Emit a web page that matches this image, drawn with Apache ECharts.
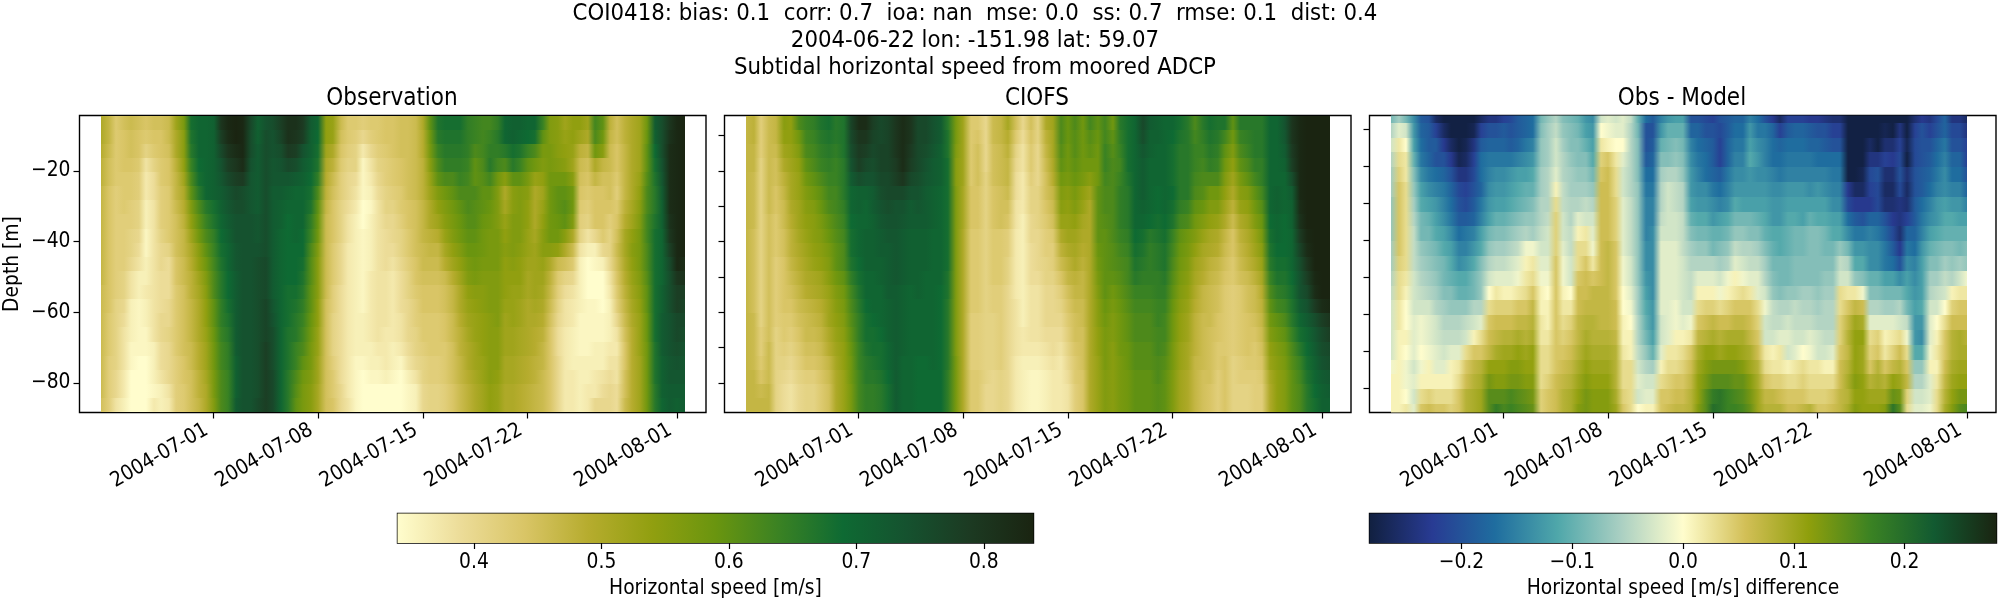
<!DOCTYPE html>
<html lang="en">
<head>
<meta charset="UTF-8">
<title>COI0418</title>
<script src="https://cdn.jsdelivr.net/npm/echarts@6/dist/echarts.min.js"></script>
<style>
html,body{margin:0;padding:0;background:#fff;}
#main{width:2000px;height:600px;}
</style>
</head>
<body>
<div id="main"></div>
<script>
// depth of each row [m], top to bottom
var obsDepths = [-6.3,-10.3,-14.3,-18.3,-22.3,-26.3,-30.3,-34.3,-38.3,-42.3,-46.3,-50.3,-54.3,-58.3,-62.3,-66.3,-70.3,-74.3,-78.3,-82.3,-86.3];
var diffDepths = [-6.2,-10.2,-14.2,-18.2,-22.2,-26.2,-30.2,-34.2,-38.2,-42.2,-46.2,-50.2,-54.2,-58.2,-62.2,-66.2,-70.2,-74.2,-78.2,-82.2,-86.2];

// one line per half day from 06-23 12:00, speed in cm/s, top to bottom
var obsColumns = [
[50,50,49,48,48,47,47,47,47,47,47,47,46,46,46,46,46,46,46,46,45],
[47,47,46,45,45,44,44,44,44,44,44,44,44,44,43,43,43,42,42,42,42],
[43,43,43,43,43,42,42,42,42,42,42,42,42,41,41,41,41,41,40,40,38],
[45,44,44,44,43,43,43,42,42,42,42,41,41,40,39,38,38,38,37,37,36],
[46,45,45,44,43,43,42,42,41,41,40,38,38,36,36,36,35,35,34,34,34],
[45,44,44,43,42,42,41,41,40,39,38,36,36,35,35,35,35,34,34,34,34],
[44,43,41,38,37,37,36,36,35,35,36,36,37,36,36,35,35,34,34,34,34],
[45,44,43,41,39,39,38,38,38,38,38,38,38,38,38,38,36,36,36,35,37],
[45,44,44,43,43,42,42,42,41,40,40,39,39,39,40,40,39,39,38,36,36],
[46,46,45,44,44,43,43,43,43,41,39,39,39,40,40,41,40,40,40,38,37],
[52,50,50,48,47,47,46,45,45,45,44,44,43,43,43,43,43,42,42,42,42],
[57,55,55,54,52,50,49,48,47,47,46,46,45,45,45,45,45,44,44,43,43],
[68,67,66,64,62,60,56,54,52,50,49,48,48,47,47,47,46,46,45,45,45],
[70,70,70,69,68,66,62,60,58,55,54,52,51,50,50,50,49,49,48,48,47],
[70,70,70,70,70,70,66,64,62,60,58,56,55,54,54,53,52,52,51,50,50],
[71,71,71,71,71,71,68,67,65,64,63,62,62,60,60,59,58,58,57,57,56],
[80,78,76,74,73,72,71,70,69,68,67,66,66,65,65,64,63,63,62,62,62],
[83,82,80,78,76,74,73,72,71,70,70,69,69,68,67,66,65,65,64,64,64],
[84,84,82,80,78,76,75,74,74,73,73,72,72,72,72,72,72,71,71,71,72],
[83,83,83,82,79,75,75,74,74,74,74,74,74,74,74,74,74,74,74,74,74],
[76,75,75,74,73,73,73,74,74,74,74,74,74,74,74,74,74,74,74,74,74],
[71,71,72,72,72,72,72,73,73,74,75,75,75,75,75,75,75,75,75,75,76],
[74,75,75,75,75,75,75,75,75,75,76,76,76,77,77,77,78,78,78,78,78],
[75,74,74,73,73,72,72,72,72,72,72,72,72,73,74,75,75,75,76,76,76],
[78,77,75,74,73,72,71,71,70,70,70,70,70,70,70,70,70,70,70,70,70],
[81,81,79,76,73,71,70,69,69,69,69,69,68,68,68,67,67,67,66,66,66],
[81,80,78,75,72,70,70,70,70,69,69,69,68,67,66,66,64,64,62,61,60],
[79,78,74,72,71,70,70,70,69,69,68,67,66,65,64,63,62,60,58,57,57],
[72,71,71,70,69,68,67,65,64,62,61,61,60,60,59,58,57,57,56,55,55],
[70,69,68,67,65,62,60,59,58,56,55,55,55,54,54,53,53,52,52,51,51],
[54,54,52,50,49,48,47,46,46,46,46,46,46,45,45,45,45,45,45,45,45],
[53,53,50,48,46,45,44,44,44,43,43,43,42,42,41,41,41,42,43,43,44],
[46,45,44,43,42,42,41,41,41,40,40,40,39,39,39,39,39,39,39,40,40],
[43,43,42,41,40,40,39,38,38,37,37,37,37,37,37,37,37,37,37,37,38],
[43,42,41,41,39,38,37,36,36,36,36,36,36,36,36,36,36,35,35,35,35],
[42,40,37,35,35,35,34,34,35,35,35,35,35,35,36,36,36,35,34,34,34],
[43,42,40,38,37,36,35,36,36,36,36,37,37,37,37,37,36,36,35,34,34],
[43,43,42,41,40,39,38,38,38,38,38,38,38,38,38,38,37,36,35,34,34],
[44,44,43,42,42,41,41,40,39,39,39,38,38,38,38,37,37,37,36,34,34],
[44,44,44,43,43,42,41,40,40,39,38,37,37,37,37,37,36,36,35,34,34],
[45,45,45,44,44,43,43,42,41,41,40,39,39,39,38,38,37,35,34,34,34],
[45,45,45,45,45,45,44,44,43,43,42,41,41,40,40,40,39,38,36,35,35],
[46,46,46,46,46,46,45,45,45,45,44,44,43,42,42,41,41,40,38,36,36],
[50,49,49,48,48,48,47,47,47,46,46,45,44,44,43,43,42,41,41,40,40],
[60,58,57,55,53,52,50,50,48,47,46,45,44,44,43,43,43,42,42,41,41],
[67,66,64,62,60,56,54,52,49,47,46,45,44,44,43,43,43,42,42,41,41],
[68,67,66,65,62,58,56,55,53,51,49,46,45,45,44,44,43,43,43,42,42],
[68,67,66,65,62,60,58,57,56,54,52,49,47,47,46,46,45,45,45,44,44],
[68,67,66,65,64,62,60,59,58,56,54,52,50,50,49,48,48,47,47,46,46],
[65,65,65,64,63,62,62,61,60,59,57,56,54,53,52,51,50,50,49,48,48],
[64,64,62,60,60,62,61,61,60,59,58,57,55,54,53,53,52,52,51,50,50],
[63,63,63,62,61,60,60,59,58,58,57,56,55,55,54,54,54,53,53,52,52],
[63,64,65,66,63,60,59,58,57,57,57,56,56,56,55,55,55,55,55,54,54],
[65,66,65,63,58,56,56,56,57,57,57,56,56,56,56,55,55,55,54,53,53],
[70,70,66,62,55,50,51,53,54,55,54,54,54,53,52,52,52,51,51,50,50],
[71,71,68,66,60,55,55,56,56,56,55,54,53,53,53,52,52,51,51,50,50],
[71,70,67,64,60,56,56,56,56,55,54,54,53,52,52,51,51,50,50,49,49],
[70,69,64,60,57,55,54,54,53,53,52,51,51,50,50,50,50,49,49,48,48],
[70,68,62,58,53,50,50,50,51,52,52,52,52,51,50,49,49,48,48,47,47],
[64,60,57,56,54,52,53,54,55,55,53,52,51,50,49,48,47,47,46,46,46],
[56,56,57,57,58,58,58,58,58,55,50,48,47,46,45,44,44,44,44,44,44],
[55,55,55,56,58,60,60,59,58,54,46,43,42,41,40,39,39,40,40,40,40],
[52,53,54,55,58,60,61,60,55,50,45,41,39,38,38,37,37,37,37,37,37],
[54,54,53,52,55,58,58,56,50,46,43,40,38,37,37,36,36,36,37,37,37],
[54,52,48,46,45,44,43,42,41,38,36,36,36,36,35,35,35,36,36,36,36],
[52,50,47,45,44,43,42,41,38,36,34,34,34,35,35,35,35,36,36,37,37],
[63,62,58,50,47,44,44,44,40,36,35,34,34,35,35,35,36,36,37,37,40],
[60,58,55,47,45,44,44,44,43,40,36,34,34,34,35,35,36,36,38,39,40],
[48,47,46,46,45,45,44,42,41,41,40,38,37,36,36,36,37,38,39,40,40],
[45,45,44,44,43,42,43,44,45,46,45,44,43,42,40,38,37,38,38,39,39],
[48,48,47,47,47,47,48,49,51,51,50,49,48,47,46,45,44,44,45,45,46],
[50,50,50,50,50,50,51,52,54,55,54,53,52,51,50,49,49,49,49,49,49],
[52,52,52,52,53,54,55,56,57,57,57,56,55,54,53,53,53,52,52,52,52],
[58,59,60,60,61,62,62,63,63,62,62,61,60,60,59,59,58,58,58,58,58],
[72,71,69,68,67,66,66,67,68,68,68,68,68,68,68,68,67,67,67,66,66],
[75,75,75,74,73,72,71,71,70,70,70,70,71,71,72,72,72,71,71,71,70],
[80,81,82,82,82,82,82,81,80,78,76,75,75,75,74,74,74,73,73,72,72],
[83,83,83,83,83,83,83,83,83,83,83,80,78,78,76,76,75,74,73,72,71],
[84,84,84,84,84,84,84,84,84,84,82,81,78,77,76,75,74,73,73,72,72]
];

var modelColumns = [
[47,47,47,47,47,47,47,47,47,47,47,47,47,47,47,47,47,47,47,47,47],
[48,48,47,47,46,46,46,46,45,45,45,45,45,45,46,46,46,46,47,47,47],
[42,42,42,41,41,41,41,41,41,41,41,41,41,41,41,42,42,43,44,46,47],
[46,46,46,46,46,46,46,45,45,45,45,45,45,45,45,45,46,46,46,47,47],
[47,47,46,45,45,44,44,43,43,43,42,42,42,42,42,41,41,41,41,41,41],
[55,54,52,50,48,47,46,46,45,45,44,44,44,44,43,43,42,41,40,39,39],
[54,54,53,52,51,51,50,49,48,48,47,46,45,44,43,42,41,40,39,38,38],
[62,58,56,54,53,53,52,52,51,50,49,48,47,46,45,44,43,42,41,40,40],
[64,63,62,60,58,56,55,54,53,52,51,50,49,47,46,46,45,44,42,41,41],
[65,64,63,62,60,58,56,55,55,54,53,51,50,48,47,46,45,44,42,41,41],
[67,66,65,64,62,60,59,57,56,55,54,52,51,49,48,47,46,45,44,43,43],
[68,67,66,65,64,63,62,60,59,57,56,55,53,52,52,50,49,47,46,45,45],
[66,66,65,64,64,63,63,62,61,60,60,58,56,55,54,53,52,51,50,50,50],
[67,67,67,66,66,66,65,64,63,62,62,60,58,57,56,55,54,54,53,53,53],
[77,76,75,74,72,70,70,69,68,68,67,65,63,62,61,60,59,58,58,57,57],
[82,80,79,78,75,71,71,70,70,70,69,68,67,66,65,65,64,64,63,63,63],
[82,80,78,76,74,71,70,70,71,71,71,70,70,69,68,68,67,66,66,65,65],
[78,77,76,75,74,72,72,71,71,71,71,70,70,70,69,68,68,67,66,65,65],
[76,76,77,77,76,75,74,73,72,72,71,71,70,70,70,69,68,68,67,66,66],
[77,77,77,77,76,76,75,74,73,72,72,72,72,71,71,71,70,70,69,68,68],
[80,80,80,79,78,76,74,74,73,73,73,73,72,72,72,72,72,72,72,72,72],
[82,82,82,82,80,76,74,73,72,72,72,72,71,71,71,71,71,70,70,70,70],
[80,80,79,78,76,74,72,72,71,71,71,71,70,70,70,70,70,70,70,70,70],
[76,76,76,76,75,74,73,72,71,71,71,71,71,70,70,70,70,69,69,69,69],
[76,76,75,74,73,72,72,72,71,71,71,70,70,70,70,70,70,69,69,69,69],
[74,74,73,72,72,71,71,71,70,70,70,70,70,70,70,70,70,70,69,69,69],
[72,72,71,71,71,70,70,70,70,70,70,70,69,69,69,69,69,69,69,69,69],
[66,67,67,68,68,68,68,68,68,68,68,67,67,66,66,66,66,66,65,65,65],
[57,57,56,55,55,56,56,56,56,56,56,56,56,56,56,56,56,57,57,57,57],
[52,52,52,52,52,51,51,51,50,50,50,50,50,50,50,50,50,50,50,50,50],
[43,43,43,43,43,44,44,44,43,43,43,43,43,43,42,42,42,42,43,43,43],
[43,44,45,45,45,44,44,44,43,43,43,43,43,43,42,42,42,42,43,43,43],
[40,40,40,40,41,41,41,41,41,41,41,41,41,41,41,41,41,41,41,40,40],
[46,46,45,45,45,44,44,44,43,43,43,43,42,42,41,41,41,41,40,40,40],
[47,47,46,46,46,45,45,45,43,43,43,43,42,42,42,42,42,42,41,41,41],
[51,49,48,47,47,46,45,44,42,42,41,41,40,40,40,40,40,40,40,40,40],
[45,43,41,40,39,39,38,38,37,37,37,37,37,38,38,38,38,37,37,37,37],
[40,39,38,38,37,37,37,36,36,36,36,36,36,36,36,37,37,36,36,36,36],
[45,44,43,43,42,41,41,40,40,39,39,39,38,38,38,38,37,36,35,35,35],
[41,41,40,40,40,41,41,41,40,40,40,39,38,38,38,38,37,36,35,35,35],
[50,48,47,46,45,45,44,43,42,42,41,41,40,40,40,39,38,37,36,36,36],
[52,51,51,50,49,47,46,45,43,42,42,41,40,40,40,39,39,38,37,37,37],
[62,62,61,60,58,56,55,53,50,48,46,44,42,41,40,39,38,37,37,37,37],
[59,59,58,58,57,55,54,53,52,50,48,47,45,44,43,42,41,40,39,38,38],
[62,61,61,60,59,57,56,54,52,51,50,48,47,46,45,45,44,43,43,42,42],
[58,58,58,58,57,54,53,51,50,49,48,47,47,46,46,45,45,45,44,44,44],
[63,61,60,58,55,52,50,50,50,50,50,50,50,50,50,50,50,50,50,50,50],
[60,59,58,58,58,60,60,60,60,59,58,57,56,55,55,54,54,53,53,53,53],
[63,63,64,64,63,62,62,61,60,60,60,60,60,59,58,57,57,57,56,56,56],
[58,60,61,62,62,62,62,62,62,61,61,60,58,57,56,56,55,55,55,55,55],
[66,65,64,63,64,65,65,65,64,63,62,61,60,59,58,58,58,57,57,57,57],
[68,68,68,68,67,66,66,66,65,64,63,63,62,61,60,60,59,59,58,58,58],
[70,70,70,70,70,70,70,70,69,68,67,66,64,63,62,62,61,61,60,60,60],
[76,75,73,72,72,72,71,70,68,67,66,65,64,63,62,62,61,61,60,60,60],
[72,71,71,70,70,70,70,69,66,65,65,65,64,63,62,62,61,61,60,60,60],
[71,71,70,70,70,69,69,68,67,66,66,65,65,64,64,63,63,62,62,61,61],
[70,70,70,70,70,70,70,69,68,67,67,66,65,64,63,63,62,61,60,60,60],
[70,69,68,68,68,69,68,67,64,63,62,61,60,59,58,58,57,57,56,56,56],
[68,67,66,66,66,66,65,63,60,59,58,57,56,55,54,54,53,53,52,52,52],
[66,66,66,66,66,66,64,62,58,57,56,55,54,53,52,52,51,51,50,50,50],
[62,63,64,64,63,62,60,58,56,54,52,51,50,49,48,48,48,47,47,47,47],
[66,65,64,63,62,61,59,56,53,51,50,49,47,47,46,46,46,46,45,45,45],
[68,67,66,65,62,58,56,54,51,50,48,47,46,46,46,45,45,45,45,44,44],
[67,66,65,64,62,58,56,53,50,49,47,46,45,45,44,44,43,43,42,42,42],
[67,63,60,58,56,54,52,50,47,46,45,44,43,43,43,43,43,44,44,44,44],
[60,58,56,54,52,50,48,46,44,44,43,43,42,42,42,42,42,41,41,41,41],
[66,64,62,60,57,55,53,50,48,47,46,45,43,43,43,43,43,42,42,41,41],
[66,65,64,62,60,56,54,52,50,49,48,46,45,45,44,44,44,43,42,41,41],
[66,66,66,65,63,60,58,56,53,52,50,48,46,46,45,44,43,43,42,42,42],
[66,66,66,65,65,63,61,59,57,55,53,51,49,48,47,46,45,44,43,42,42],
[70,70,70,70,70,70,70,69,68,67,66,64,62,60,58,56,54,53,51,50,50],
[70,70,70,70,70,71,71,70,70,69,68,67,65,63,60,58,56,55,54,54,54],
[74,73,72,71,70,70,70,69,69,69,68,67,66,64,62,60,58,57,56,56,56],
[80,80,79,78,75,72,71,71,70,70,70,69,68,67,66,64,62,61,60,60,60],
[83,83,83,83,83,83,82,81,79,77,75,74,74,72,70,68,66,64,63,62,62],
[84,84,84,84,84,84,84,84,83,82,80,78,76,74,72,70,69,68,67,66,66],
[84,84,84,84,84,84,84,84,84,84,84,83,82,79,75,73,72,71,70,69,68],
[84,84,84,84,84,84,84,84,84,84,84,84,84,82,78,76,75,74,72,71,71],
[84,84,84,84,84,84,84,84,84,84,84,84,84,83,80,78,76,75,73,72,71]
];

// difference in cm/s, one line per half day
var diffColumns = [
[-9,-5,-3,-5,-6,-6,-7,-7,-7,-6,-6,-5,-4,-3,-3,-3,-3,-1,1,1,1],
[-6,-2,2,3,4,5,5,5,5,5,4,3,3,2,2,1,1,1,1,1,1],
[-9,-3,0,2,2,3,3,3,3,3,3,2,1,0,0,1,0,-1,-1,0,2],
[-14,-13,-12,-10,-8,-7,-6,-5,-4,-4,-4,-3,-3,-3,-2,-2,-2,-3,-2,-3,-2],
[-19,-18,-17,-16,-14,-12,-11,-9,-9,-7,-6,-5,-4,-3,-1,-1,0,-1,1,3,5],
[-20,-19,-19,-18,-16,-14,-12,-10,-9,-8,-7,-6,-5,-3,-2,-2,-1,1,1,4,6],
[-26,-22,-19,-20,-17,-15,-13,-12,-11,-9,-8,-7,-6,-5,-3,-3,-2,-2,1,3,5],
[-28,-26,-23,-20,-18,-16,-15,-14,-12,-11,-9,-9,-8,-6,-5,-4,-3,-2,1,3,5],
[-28,-28,-26,-23,-20,-18,-17,-16,-14,-12,-11,-10,-8,-7,-5,-4,-2,1,1,3,4],
[-28,-28,-28,-27,-24,-21,-20,-19,-17,-15,-14,-11,-10,-7,-5,-4,-2,2,3,5,5],
[-28,-28,-27,-26,-24,-22,-21,-19,-16,-15,-13,-11,-10,-7,-4,-3,3,5,6,8,8],
[-28,-27,-24,-22,-21,-20,-19,-18,-15,-13,-11,-9,-9,-5,-3,1,5,7,8,9,9],
[-26,-22,-19,-17,-17,-18,-16,-15,-12,-11,-8,-7,-7,-5,-2,3,5,8,9,10,10],
[-24,-20,-18,-16,-15,-14,-13,-12,-9,-7,-5,-3,0,3,5,6,7,11,13,15,15],
[-24,-20,-18,-16,-14,-13,-12,-10,-8,-6,-4,-2,2,4,6,7,9,11,12,15,18],
[-22,-19,-18,-16,-14,-13,-12,-10,-8,-6,-4,-2,1,4,6,8,10,11,12,15,16],
[-21,-20,-19,-16,-13,-12,-11,-9,-7,-5,-3,-2,1,4,6,8,10,12,13,16,17],
[-19,-19,-18,-15,-12,-11,-10,-8,-6,-4,-2,-1,2,5,7,9,11,12,13,15,16],
[-18,-18,-16,-14,-12,-10,-9,-7,-5,-1,1,2,3,5,7,8,10,11,12,14,15],
[-17,-17,-15,-13,-11,-10,-8,-7,-6,-1,2,3,5,7,8,9,11,11,12,13,14],
[-9,-8,-7,-7,-6,-6,-5,-5,-4,-3,-2,-1,1,1,2,2,3,3,3,4,4],
[-7,-6,-6,-6,-5,-5,-5,-4,-3,-3,-2,-1,0,1,1,2,3,3,4,5,5],
[-5,-4,-3,-3,-2,1,3,4,4,4,5,5,5,5,5,5,5,5,6,6,6],
[-8,-7,-6,-5,-5,-4,-4,-3,-3,-2,-1,-1,1,2,3,4,5,6,7,8,8],
[-9,-8,-8,-7,-6,-6,-5,-5,-4,-4,-3,-3,0,2,4,5,6,7,8,9,9],
[-10,-9,-8,-8,-7,-6,-5,-2,1,3,3,5,6,6,7,7,8,9,10,11,12],
[-13,-12,-10,-8,-7,-6,-4,-3,2,3,5,6,6,7,8,9,10,11,12,13,13],
[-14,-13,-12,-11,-9,-7,-5,-3,-2,-1,2,5,7,7,8,8,9,10,11,12,12],
[-3,0,2,4,5,6,6,6,6,6,6,6,7,7,7,8,9,10,11,12,12],
[-2,-1,1,5,6,6,6,6,6,7,7,7,7,7,7,8,9,10,11,12,12],
[-3,-2,0,2,3,3,4,4,4,5,5,5,5,6,6,7,8,8,8,9,10],
[-2,-2,0,-2,-3,-3,-2,-2,-2,-2,-1,-1,0,0,1,1,2,3,3,4,5],
[-4,-5,-5,-5,-5,-5,-4,-4,-4,-4,-3,-3,-2,-1,0,1,1,3,3,3,3],
[-10,-9,-8,-8,-8,-7,-7,-7,-7,-7,-7,-7,-6,-6,-5,-5,-4,-3,-2,-3,0],
[-17,-20,-20,-19,-17,-16,-15,-15,-15,-14,-14,-13,-12,-11,-10,-9,-7,-5,-3,-2,1],
[-19,-20,-19,-18,-17,-16,-15,-15,-14,-14,-14,-14,-14,-13,-13,-12,-10,-6,-3,-2,1],
[-15,-13,-10,-8,-6,-5,-5,-4,-3,-2,-2,-2,-2,-2,-3,-3,-2,1,3,5,5],
[-13,-10,-9,-8,-5,-3,-3,-3,-3,-2,-2,-2,-2,-2,-2,-2,2,3,4,5,6],
[-12,-10,-8,-7,-5,-4,-4,-3,-3,-2,-2,-2,-2,-1,-1,1,2,3,5,6,7],
[-12,-10,-9,-8,-7,-5,-5,-4,-4,-4,-3,-3,-3,-3,-2,1,3,4,5,6,7],
[-20,-18,-15,-14,-13,-13,-12,-10,-8,-6,-5,-4,-4,-3,-1,2,5,6,7,8,8],
[-20,-18,-17,-16,-15,-14,-13,-11,-9,-7,-5,-2,1,3,5,7,9,10,11,11,12],
[-21,-20,-18,-17,-17,-14,-13,-11,-9,-7,-5,-2,1,4,6,8,11,12,13,15,15],
[-22,-20,-19,-19,-18,-16,-14,-13,-10,-9,-5,-2,1,4,7,9,11,13,15,18,20],
[-20,-21,-22,-22,-19,-17,-15,-12,-10,-8,-6,-3,-1,3,6,8,10,13,15,19,19],
[-19,-19,-18,-18,-16,-15,-14,-11,-9,-7,-5,-1,1,4,6,9,11,13,15,17,17],
[-18,-17,-16,-15,-14,-13,-11,-9,-7,-4,-2,1,2,5,7,9,11,13,14,16,17],
[-18,-17,-16,-15,-14,-13,-12,-9,-7,-5,-3,-1,3,5,7,9,10,12,14,15,16],
[-15,-13,-12,-11,-13,-13,-12,-9,-8,-5,-4,-2,2,5,6,7,9,10,12,13,14],
[-17,-16,-14,-13,-14,-13,-12,-10,-8,-6,-4,-2,-2,3,4,5,6,8,9,10,10],
[-20,-16,-15,-15,-14,-13,-12,-11,-10,-8,-6,-5,-3,-1,-3,-3,2,3,5,7,8],
[-23,-18,-17,-17,-15,-14,-13,-13,-11,-10,-9,-8,-7,-4,-4,-3,1,2,4,7,8],
[-26,-22,-18,-17,-16,-14,-13,-13,-11,-11,-9,-9,-8,-5,-4,-2,2,2,4,6,8],
[-22,-19,-17,-16,-15,-13,-12,-11,-10,-10,-9,-9,-7,-5,-3,-2,-3,1,3,5,6],
[-22,-18,-17,-16,-15,-13,-12,-11,-9,-9,-8,-8,-7,-4,-4,-3,-2,2,3,5,6],
[-22,-18,-17,-16,-15,-13,-12,-12,-9,-9,-8,-8,-6,-5,-4,-3,0,3,4,5,7],
[-23,-19,-18,-16,-15,-14,-12,-10,-8,-8,-8,-8,-6,-5,-4,-2,-1,2,3,4,8],
[-23,-20,-18,-17,-15,-13,-12,-11,-8,-8,-8,-8,-7,-6,-5,-3,-3,2,3,4,5],
[-24,-20,-19,-17,-15,-14,-12,-11,-9,-9,-8,-7,-6,-5,-5,-4,-3,1,3,4,5],
[-25,-22,-20,-17,-16,-15,-14,-12,-11,-9,-8,-7,-6,-5,-5,-4,-2,1,3,5,6],
[-25,-22,-20,-17,-16,-15,-14,-12,-11,-7,-4,-3,3,3,4,4,5,6,6,7,7],
[-28,-28,-28,-28,-28,-23,-21,-17,-14,-9,-5,-3,2,5,7,8,7,8,9,8,9],
[-28,-28,-28,-28,-28,-26,-23,-19,-16,-13,-11,-7,2,7,10,11,11,11,12,11,12],
[-28,-28,-28,-28,-27,-26,-23,-20,-16,-13,-11,-8,-1,6,9,11,10,10,11,11,11],
[-28,-28,-26,-24,-21,-22,-23,-18,-15,-14,-14,-10,-8,-5,-2,3,4,5,8,10,11],
[-28,-28,-28,-24,-20,-21,-21,-18,-16,-14,-14,-10,-8,-5,-2,4,5,8,9,10,11],
[-28,-27,-25,-22,-25,-26,-25,-20,-18,-16,-16,-12,-9,-6,-2,1,2,5,8,10,12],
[-28,-28,-25,-23,-25,-26,-25,-23,-21,-19,-17,-12,-9,-6,-2,2,4,7,11,14,19],
[-28,-24,-22,-21,-20,-21,-24,-24,-25,-23,-20,-14,-9,-5,-3,3,6,8,10,13,15],
[-28,-28,-27,-28,-25,-26,-25,-22,-18,-16,-14,-12,-11,-9,-4,-1,3,5,7,4,3],
[-25,-22,-21,-21,-20,-20,-19,-19,-18,-17,-15,-14,-13,-12,-13,-13,-11,-7,-5,-3,-2],
[-23,-20,-20,-20,-19,-19,-17,-16,-15,-13,-12,-12,-12,-11,-13,-14,-11,-7,-5,-3,-2],
[-24,-22,-20,-19,-18,-17,-15,-14,-12,-10,-8,-6,-5,-3,-2,-2,-1,1,-2,-2,-1],
[-21,-20,-18,-17,-16,-15,-13,-13,-11,-9,-8,-6,-4,-3,0,1,2,1,2,3,3],
[-18,-18,-16,-15,-14,-14,-12,-11,-10,-8,-6,-4,-3,0,3,5,5,6,7,8,9],
[-24,-21,-20,-18,-17,-15,-13,-11,-10,-8,-7,-5,1,4,6,8,8,9,10,11,12],
[-24,-21,-20,-18,-17,-15,-13,-12,-10,-9,-6,-3,2,5,6,9,9,10,11,13,15],
[-26,-24,-22,-22,-20,-18,-15,-12,-10,-8,-7,-1,2,5,6,8,9,10,11,13,16]
];

// axis ticks
var dateTicks = [Date.UTC(2004,6,1),Date.UTC(2004,6,8),Date.UTC(2004,6,15),Date.UTC(2004,6,22),Date.UTC(2004,7,1)];
var labelDepthTicks = [-20,-40,-60,-80];
var minorDepthTicks = [-10,-20,-30,-40,-50,-60,-70,-80];
var speedTicks = [0.4,0.5,0.6,0.7,0.8];
var diffTicks = [-0.2,-0.1,0,0.1,0.2];

// colormaps, evenly spaced stops
var speedColors = ['#fffdcd','#ecdc98','#d9c566','#b6ac2e','#919f10','#6a950f','#3a8223','#0e6a33','#15522f','#1c3a22','#1a2411'];
var diffColors = ['#112040','#283b93','#1f6d9f','#4fa7aa','#a9cfc2','#fffdcd','#d2bf56','#8f9f0c','#3a8223','#125a31','#1a2411'];
var speedRange = [0.34,0.839];
var diffRange = [-0.283,0.283];

var firstTime = Date.UTC(2004,5,23,12);
var halfDay = 12*3600*1000;
var timeMin = Date.UTC(2004,5,22,1);
var timeMax = Date.UTC(2004,7,2,22);

var FONT = '"DejaVu Sans Condensed","DejaVu Sans"';
var TICK_SIZE = 20.8;
var chart = echarts.init(document.getElementById('main'));

function colorOf(v, range, colors) {
    var t = (v-range[0])/(range[1]-range[0]);
    return echarts.color.lerp(Math.max(0,Math.min(1,t)), colors);
}

// cells run from one half-day column to the next, depth rows stay flat
function cellData(columns, depths) {
    var out = [];
    for (var i=0;i<columns.length-1;i++) {
        for (var k=0;k<depths.length;k++) {
            out.push([firstTime+i*halfDay, firstTime+(i+1)*halfDay, depths[k]+2, depths[k]-2, columns[i][k]/100, columns[i+1][k]/100]);
        }
    }
    return out;
}

function cellSeries(gridIndex, columns, depths, range, colors) {
    return {
        type:'custom', xAxisIndex:gridIndex, yAxisIndex:gridIndex, clip:true, silent:true,
        animation:false, progressive:0, data:cellData(columns,depths),
        encode:{x:[0,1],y:[2,3]},
        renderItem:function(params,api){
            var a = api.coord([api.value(0),api.value(2)]);
            var b = api.coord([api.value(1),api.value(3)]);
            // whole pixels so neighbouring cells leave no seam
            var x0 = Math.round(a[0]), x1 = Math.round(b[0]), y0 = Math.round(a[1]), y1 = Math.round(b[1]);
            return {
                type:'rect',
                shape:{x:x0,y:y0,width:x1-x0,height:y1-y0},
                style:{fill:new echarts.graphic.LinearGradient(0,0,1,0,[
                    {offset:0,color:colorOf(api.value(4),range,colors)},
                    {offset:1,color:colorOf(api.value(5),range,colors)}
                ])}
            };
        }
    };
}

function barSeries(gridIndex, range, colors) {
    var stops = colors.map(function(c,i){return {offset:i/(colors.length-1),color:c};});
    return {
        type:'custom', xAxisIndex:gridIndex, yAxisIndex:gridIndex, silent:true, animation:false,
        data:[[range[0],range[1]]], encode:{x:[0,1]},
        renderItem:function(params,api){
            var a = api.coord([api.value(0),1]);
            var b = api.coord([api.value(1),0]);
            return {type:'rect',shape:{x:a[0],y:a[1],width:b[0]-a[0],height:b[1]-a[1]},
                style:{fill:new echarts.graphic.LinearGradient(0,0,1,0,stops)}};
        }
    };
}

function minusSign(v){return String(v).replace('-','\u2212');}

function panelGrid(left){
    return {left:left,top:115.5,width:626.5,height:297,show:true,borderColor:'#000',borderWidth:1.4,backgroundColor:'#fff'};
}
function timeAxis(i){
    return {type:'value',gridIndex:i,min:timeMin,max:timeMax,
        axisLine:{show:false},splitLine:{show:false},
        axisTick:{show:true,length:6,lineStyle:{color:'#000',width:1.2},customValues:dateTicks},
        axisLabel:{show:true,rotate:30,fontFamily:FONT,fontSize:TICK_SIZE,color:'#000',margin:12,padding:[0,8,0,0],customValues:dateTicks,
            formatter:function(v){return new Date(v).toISOString().slice(0,10);}}};
}
function depthAxis(i,min,max,showLabels){
    return {type:'value',gridIndex:i,min:min,max:max,
        axisLine:{show:false},splitLine:{show:false},
        axisTick:{show:true,length:6,lineStyle:{color:'#000',width:1.2},customValues:showLabels?labelDepthTicks:minorDepthTicks},
        axisLabel:{show:showLabels,fontFamily:FONT,fontSize:TICK_SIZE,color:'#000',margin:9,customValues:labelDepthTicks,formatter:minusSign},
        name:showLabels?'Depth [m]':'',nameLocation:'middle',nameGap:56,nameRotate:90,
        nameTextStyle:{fontFamily:FONT,fontSize:TICK_SIZE,color:'#000'}};
}
function barAxis(i,range,ticks,name){
    return {type:'value',gridIndex:i,min:range[0],max:range[1],
        axisLine:{show:false},splitLine:{show:false},
        axisTick:{show:true,length:6,lineStyle:{color:'#000',width:1.2},customValues:ticks},
        axisLabel:{show:true,fontFamily:FONT,fontSize:TICK_SIZE,color:'#000',margin:9,customValues:ticks,
            formatter:function(v){return minusSign(v.toFixed(1));}},
        name:name,nameLocation:'middle',nameGap:35,nameTextStyle:{fontFamily:FONT,fontSize:TICK_SIZE,color:'#000'}};
}
function hiddenAxis(i){
    return {type:'value',gridIndex:i,min:0,max:1,show:false};
}
function titleText(text,x,y,size){
    return {text:text,left:x,top:y,textAlign:'center',
        textStyle:{fontFamily:FONT,fontSize:size,fontWeight:'normal',color:'#000'},padding:0};
}

chart.setOption({
    animation:false,
    title:[
        titleText('COI0418: bias: 0.1  corr: 0.7  ioa: nan  mse: 0.0  ss: 0.7  rmse: 0.1  dist: 0.4',975,2,23.7),
        titleText('2004-06-22 lon: -151.98 lat: 59.07',975,29,23.7),
        titleText('Subtidal horizontal speed from moored ADCP',975,56,23.7),
        titleText('Observation',392,87,24),
        titleText('CIOFS',1037,87,24),
        titleText('Obs - Model',1682,87,24)
    ],
    grid:[
        panelGrid(79.5),panelGrid(724.5),panelGrid(1369.5),
        {left:397.5,top:513.5,width:636,height:31.5,show:true,borderColor:'#000',borderWidth:1.4},
        {left:1369.5,top:513.5,width:627,height:31.5,show:true,borderColor:'#000',borderWidth:1.4}
    ],
    xAxis:[timeAxis(0),timeAxis(1),timeAxis(2),
        barAxis(3,speedRange,speedTicks,'Horizontal speed [m/s]'),
        barAxis(4,diffRange,diffTicks,'Horizontal speed [m/s] difference')],
    yAxis:[depthAxis(0,-88.4,-4.3,true),depthAxis(1,-88.4,-4.3,false),depthAxis(2,-86.5,-6.2,false),
        hiddenAxis(3),hiddenAxis(4)],
    series:[
        cellSeries(0,obsColumns,obsDepths,speedRange,speedColors),
        cellSeries(1,modelColumns,obsDepths,speedRange,speedColors),
        cellSeries(2,diffColumns,diffDepths,diffRange,diffColors),
        barSeries(3,speedRange,speedColors),
        barSeries(4,diffRange,diffColors)
    ]
});
</script>
</body>
</html>
